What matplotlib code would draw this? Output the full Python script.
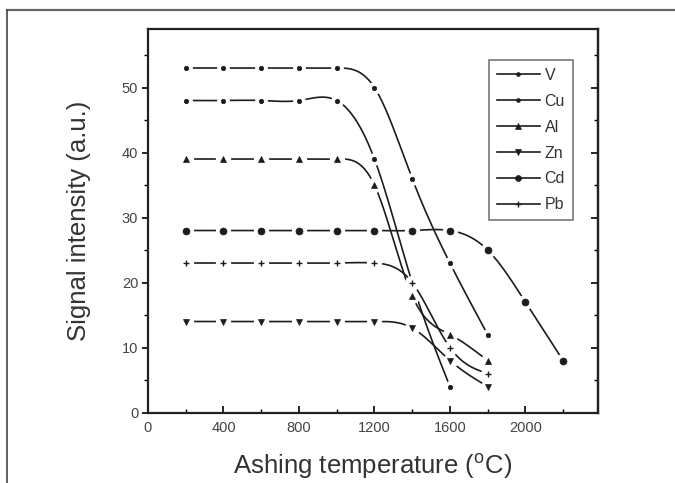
import numpy as np
import matplotlib.pyplot as plt
from matplotlib.lines import Line2D
from matplotlib.ticker import MultipleLocator

plt.rcParams['font.family'] = ['Liberation Sans', 'DejaVu Sans']

temps = [200, 400, 600, 800, 1000, 1200, 1400, 1600, 1800, 2000, 2200]

v_vals = [53, 53, 53, 53, 53, 50, 36, 23, 12]
cu_vals = [48, 48, 48, 48, 48, 39, 20, 4]
al_vals = [39, 39, 39, 39, 39, 35, 18, 12, 8]
zn_vals = [14, 14, 14, 14, 14, 14, 13, 8, 4]
cd_vals = [28, 28, 28, 28, 28, 28, 28, 28, 25, 17, 8]
pb_vals = [23, 23, 23, 23, 23, 23, 20, 10, 6]

names = ['V', 'Cu', 'Al', 'Zn', 'Cd', 'Pb']
series = [v_vals, cu_vals, al_vals, zn_vals, cd_vals, pb_vals]
markers = ['o', 'o', '^', 'v', 'o', '+']
msizes = [3.2, 3.2, 5, 5, 5, 5]

ink = '#1c1c1c'

#----------------------------------------------------------------------

def smooth_curve(x, y, per_seg=40):
    """natural cubic spline connector through the points (line style only)"""
    x = np.asarray(x, float)
    y = np.asarray(y, float)
    n = len(x)
    h = np.diff(x)
    A = np.zeros((n, n))
    r = np.zeros(n)
    A[0, 0] = A[-1, -1] = 1
    for i in range(1, n - 1):
        A[i, i - 1] = h[i - 1]
        A[i, i] = 2 * (h[i - 1] + h[i])
        A[i, i + 1] = h[i]
        r[i] = 6 * ((y[i + 1] - y[i]) / h[i] - (y[i] - y[i - 1]) / h[i - 1])
    M = np.linalg.solve(A, r)
    xs, ys = [], []
    for i in range(n - 1):
        t = np.linspace(x[i], x[i + 1], per_seg)
        a = x[i + 1] - t
        b = t - x[i]
        s = (M[i] * a**3 + M[i + 1] * b**3) / (6 * h[i]) \
            + (y[i] / h[i] - M[i] * h[i] / 6) * a \
            + (y[i + 1] / h[i] - M[i + 1] * h[i] / 6) * b
        xs.append(t)
        ys.append(s)
    return np.concatenate(xs), np.concatenate(ys)

#----------------------------------------------------------------------

fig = plt.figure(figsize=(6.75, 4.83), dpi=100)
ax = fig.add_axes([148 / 675, 1 - 412.5 / 483, (598 - 148) / 675, (412.5 - 29) / 483])

handles = []
for k, (name, vals) in enumerate(zip(names, series)):
    xx = temps[:len(vals)]
    cx, cy = smooth_curve(xx, vals)
    z = 2 + k * 0.1
    ax.plot(cx, cy, '-', color=ink, lw=1.2, zorder=z)
    # white halo gives the broken-line look around each symbol
    ax.plot(xx, vals, linestyle='none', marker='o', ms=msizes[k] + 5,
            mfc='white', mec='white', zorder=z + 0.03)
    mew = 1.0 if markers[k] == '+' else 0.5
    ax.plot(xx, vals, linestyle='none', marker=markers[k], ms=msizes[k],
            mfc=ink, mec=ink, mew=mew, zorder=z + 0.06)
    handles.append(Line2D([], [], color=ink, lw=1.2, marker=markers[k],
                          ms=msizes[k] * 0.85, mfc=ink, mec=ink, mew=mew))

ax.set_xlim(0, 2385)
ax.set_ylim(0, 59)
ax.xaxis.set_major_locator(MultipleLocator(400))
ax.xaxis.set_minor_locator(MultipleLocator(200))
ax.yaxis.set_major_locator(MultipleLocator(10))
ax.yaxis.set_minor_locator(MultipleLocator(5))

ax.tick_params(axis='x', which='both', direction='in', top=False,
               labelsize=10.5, labelcolor='#444444', pad=6)
ax.tick_params(axis='x', which='major', length=5, width=1.2)
ax.tick_params(axis='x', which='minor', length=3, width=1)
ax.tick_params(axis='y', which='both', direction='out', right=False,
               labelsize=10.5, labelcolor='#444444', pad=3)
ax.tick_params(axis='y', which='major', length=4, width=1.2)
ax.tick_params(axis='y', which='minor', length=3, width=1)

# inward ticks on the right-hand spine
rax = ax.secondary_yaxis('right')
rax.yaxis.set_major_locator(MultipleLocator(10))
rax.yaxis.set_minor_locator(MultipleLocator(5))
rax.tick_params(axis='y', which='both', direction='in', labelright=False)
rax.tick_params(axis='y', which='major', length=5, width=1.2)
rax.tick_params(axis='y', which='minor', length=3, width=1)
rax.spines['right'].set_linewidth(1.6)

for sp in ax.spines.values():
    sp.set_linewidth(1.6)
    sp.set_color('#222222')

ax.set_xlabel('Ashing temperature ($^{\\mathregular{o}}$C)', fontsize=18.5,
              color='#333333', labelpad=12)
ax.set_ylabel('Signal intensity (a.u.)', fontsize=18.5, color='#333333', labelpad=22)

leg = ax.legend(handles, names, loc='upper right',
                bbox_to_anchor=((573 - 148) / 450, 1 - 31 / 383.5),
                borderaxespad=0, fontsize=11.5, handlelength=2.7,
                handletextpad=0.3, labelspacing=0.68, borderpad=0.5,
                fancybox=False, framealpha=1)
leg.get_frame().set_edgecolor('#777777')
leg.get_frame().set_linewidth(1.2)
for t in leg.get_texts():
    t.set_color('#333333')

# outer frame lines along the top and left edges
fig.add_artist(Line2D([7 / 675, 1], [1 - 10 / 483, 1 - 10 / 483],
                      color='#666666', lw=1.6, transform=fig.transFigure))
fig.add_artist(Line2D([7 / 675, 7 / 675], [0, 1 - 10 / 483],
                      color='#444444', lw=1.2, transform=fig.transFigure))

fig.savefig('out.png', dpi=100)
